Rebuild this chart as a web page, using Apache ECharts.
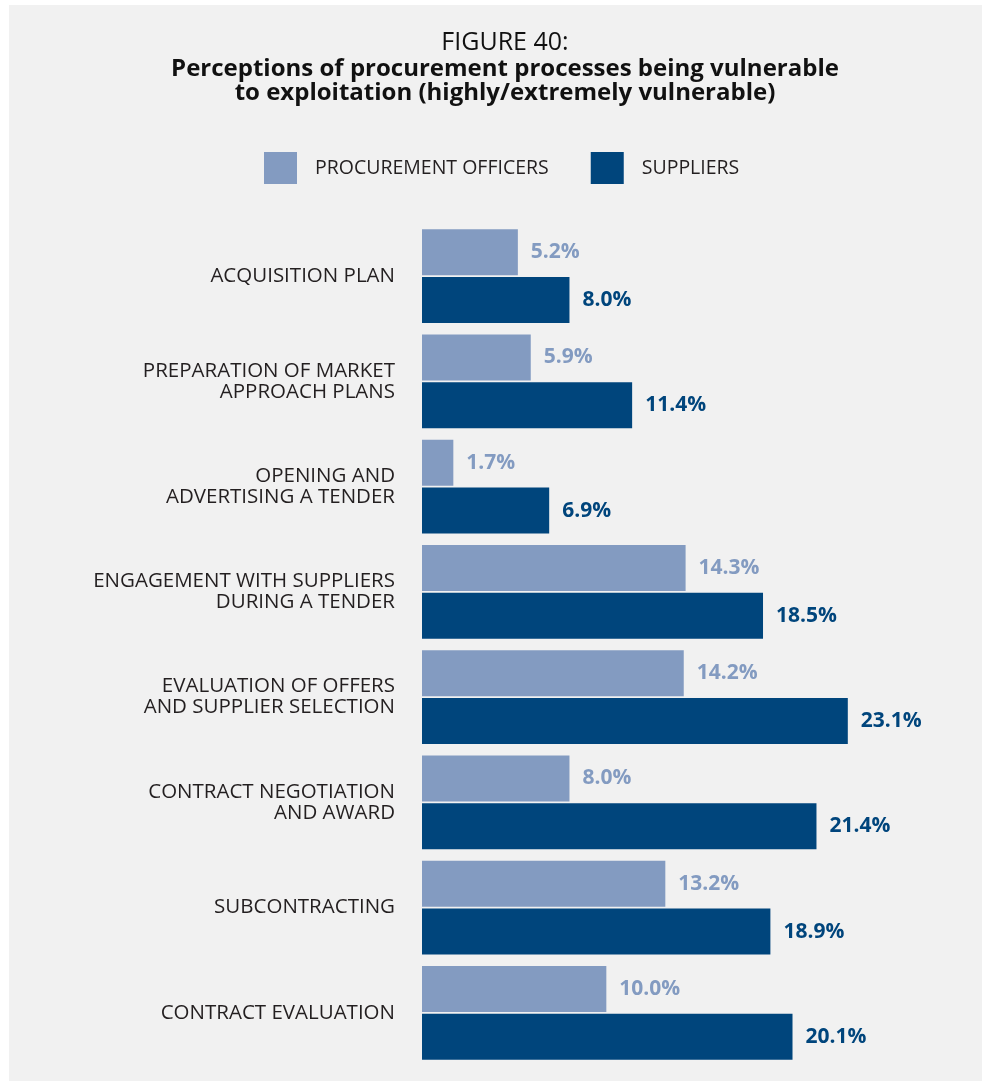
<!DOCTYPE html>
<html>
<head>
<meta charset="utf-8">
<script src="https://cdn.jsdelivr.net/npm/echarts@6/dist/echarts.min.js"></script>
<style>
  html, body { margin: 0; padding: 0; background: #ffffff; }
  #chart { width: 982px; height: 1081px; }
</style>
</head>
<body>
<div id="chart"></div>
<script>
// Procurement stages (top to bottom)
const categories = [
  'ACQUISITION PLAN',
  'PREPARATION OF MARKET\nAPPROACH PLANS',
  'OPENING AND\nADVERTISING A TENDER',
  'ENGAGEMENT WITH SUPPLIERS\nDURING A TENDER',
  'EVALUATION OF OFFERS\nAND SUPPLIER SELECTION',
  'CONTRACT NEGOTIATION\nAND AWARD',
  'SUBCONTRACTING',
  'CONTRACT EVALUATION'
];
// Share answering highly/extremely vulnerable (%)
const officers = [5.2, 5.9, 1.7, 14.3, 14.2, 8.0, 13.2, 10.0];
const suppliers = [8.0, 11.4, 6.9, 18.5, 23.1, 21.4, 18.9, 20.1];
const seriesNames = ['PROCUREMENT OFFICERS', 'SUPPLIERS'];

const LIGHT = '#839bc1';
const DARK = '#00457c';
const FONT = '"Open Sans", Lato, sans-serif';

const chart = echarts.init(document.getElementById('chart'));

const pct = p => p.value.toFixed(1) + '%';

chart.setOption({
  backgroundColor: 'transparent',
  textStyle: { fontFamily: FONT },
  graphic: [{
    type: 'rect',
    z: -10,
    shape: { x: 9, y: 5, width: 973, height: 1076 },
    style: { fill: '#f1f1f1' },
    silent: true
  }],
  title: {
    left: 500,
    top: 24,
    textAlign: 'center',
    text: '{a|FIGURE 40:}\n{b|Perceptions of procurement processes being vulnerable}\n{b|to exploitation (highly/extremely vulnerable)}',
    textStyle: {
      rich: {
        a: { fontFamily: FONT, fontSize: 25, fontWeight: 'normal', color: '#111111', lineHeight: 28, align: 'center' },
        b: { fontFamily: FONT, fontSize: 24, fontWeight: 'bold', color: '#111111', lineHeight: 24, align: 'center' }
      }
    }
  },
  legend: {
    left: 259,
    top: 147,
    itemWidth: 33,
    itemHeight: 32,
    itemGap: 42,
    icon: 'rect',
    data: seriesNames,
    textStyle: {
      fontFamily: FONT,
      fontSize: 19.5,
      color: '#231f20',
      padding: [0, 0, 0, 13]
    }
  },
  grid: {
    left: 422,
    right: 7,
    top: 223.5,
    bottom: 15.5,
    containLabel: false
  },
  xAxis: {
    type: 'value',
    min: 0,
    max: 30,
    show: false
  },
  yAxis: {
    type: 'category',
    inverse: true,
    data: categories,
    axisLine: { show: false },
    axisTick: { show: false },
    axisLabel: {
      margin: 27,
      fontFamily: FONT,
      fontSize: 20.5,
      lineHeight: 21,
      color: '#231f20',
      align: 'right',
      padding: [10, 0, 0, 0]
    }
  },
  series: [
    {
      name: seriesNames[0],
      type: 'bar',
      data: officers,
      barWidth: 46,
      barGap: '4%',
      itemStyle: { color: LIGHT },
      label: {
        show: true,
        position: 'right',
        distance: 13,
        formatter: pct,
        fontFamily: FONT,
        fontSize: 21,
        fontWeight: 'bold',
        color: LIGHT
      }
    },
    {
      name: seriesNames[1],
      type: 'bar',
      data: suppliers,
      barWidth: 46,
      barGap: '4%',
      itemStyle: { color: DARK },
      label: {
        show: true,
        position: 'right',
        distance: 13,
        formatter: pct,
        fontFamily: FONT,
        fontSize: 21,
        fontWeight: 'bold',
        color: DARK
      }
    }
  ]
});
</script>
</body>
</html>
